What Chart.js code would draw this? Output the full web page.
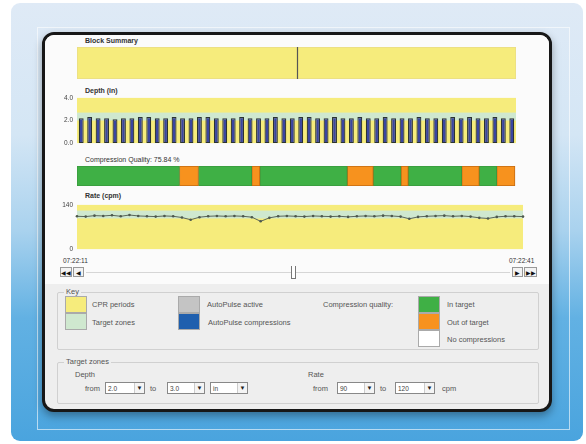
<!DOCTYPE html>
<html><head><meta charset="utf-8">
<script src="https://cdn.jsdelivr.net/npm/chart.js@4"></script>
<style>
html,body{margin:0;padding:0;width:586px;height:444px;overflow:hidden;background:#fff;font-family:"Liberation Sans",Arial,sans-serif;}
#wrap{position:absolute;left:0;top:0;width:586px;height:444px;filter:blur(0.35px);}
.a{position:absolute;}
#card{left:11px;top:3px;width:572px;height:438px;border-radius:9px;background:linear-gradient(to bottom,#dfeaf6 0%,#d4e6f5 30%,#a9d2ee 52%,#62b1e3 72%,#4aa4de 100%);}
#frame{left:37px;top:27px;width:531px;height:401px;border:1px solid rgba(255,255,255,0.6);}
#win{left:42px;top:32px;width:504px;height:374px;border:3px solid #171717;border-radius:12px;background:#eeeeee;box-shadow:0 4px 8px rgba(0,0,0,0.35);overflow:hidden}
#white{left:45px;top:35px;width:504px;height:249px;background:#fbfbfb;border-radius:9px 9px 0 0;}
.t{font-size:7px;color:#333;white-space:nowrap;line-height:8px;}
.b{font-weight:bold;}
.k{font-size:7.5px;color:#555;white-space:nowrap;line-height:9px;}
.sw{width:20px;height:15px;border:1px solid #aaa;}
.fs{border:1px solid #d0d0d0;border-radius:2px;}
.lg{background:#eeeeee;padding:0 2px;font-size:7.5px;color:#555;line-height:9px;}
.dd{height:12px;border:1px solid #888;background:#fff;font-size:6.5px;color:#444;line-height:12px;box-sizing:border-box;padding-left:2px;}
.dd span{position:absolute;right:0;top:0;width:9px;height:10px;border-left:1px solid #ccc;background:#f4f4f4;font-size:6px;line-height:10px;text-align:center;color:#222}
.btn{height:10px;border:1px solid #999;background:#f3f3f3;font-size:6px;line-height:10px;text-align:center;color:#111;box-sizing:border-box;}
canvas{position:absolute;}
</style></head>
<body>
<div id="wrap">
<div id="card" class="a"></div>
<div id="frame" class="a"></div>
<div id="win" class="a"></div>
<div id="white" class="a"></div>

<div class="a t b" style="left:85px;top:37px">Block Summary</div>
<canvas id="cBlock" style="left:77px;top:47px" width="439" height="32"></canvas>

<div class="a t b" style="left:85px;top:87px">Depth (in)</div>
<canvas id="cDepth" style="left:50px;top:90px" width="470" height="61"></canvas>

<div class="a t" style="left:85px;top:156px">Compression Quality: 75.84 %</div>
<canvas id="cQual" style="left:77px;top:166px" width="439" height="20"></canvas>

<div class="a t b" style="left:85px;top:192px">Rate (cpm)</div>
<canvas id="cRate" style="left:50px;top:197px" width="477" height="60"></canvas>

<div class="a t" style="left:63px;top:257px;font-size:6.5px">07:22:11</div>
<div class="a t" style="left:509px;top:257px;font-size:6.5px">07:22:41</div>
<div class="a btn" style="left:60px;top:267px;width:12px">&#9664;&#9664;</div>
<div class="a btn" style="left:73px;top:267px;width:11px">&#9664;</div>
<div class="a btn" style="left:512px;top:267px;width:11px">&#9654;</div>
<div class="a btn" style="left:524px;top:267px;width:13px">&#9654;&#9654;</div>
<div class="a" style="left:86px;top:272px;width:424px;height:1px;background:#d6d6d6"></div>
<div class="a" style="left:291px;top:266px;width:3px;height:12px;border:1px solid #777;border-top:none;background:#fff"></div>

<div class="a fs" style="left:57px;top:292px;width:480px;height:56px"></div>
<div class="a lg" style="left:64px;top:287px">Key</div>
<div class="a sw" style="left:65px;top:296px;background:#f6ec7c"></div>
<div class="a k" style="left:92px;top:300px">CPR periods</div>
<div class="a sw" style="left:65px;top:313px;background:#cfe8cf"></div>
<div class="a k" style="left:92px;top:318px">Target zones</div>
<div class="a sw" style="left:178px;top:296px;background:#c4c4c4"></div>
<div class="a k" style="left:207px;top:300px">AutoPulse active</div>
<div class="a sw" style="left:178px;top:313px;background:#1f5fae"></div>
<div class="a k" style="left:208px;top:318px">AutoPulse compressions</div>
<div class="a k" style="left:323px;top:300px">Compression quality:</div>
<div class="a sw" style="left:418px;top:296px;background:#3fb045"></div>
<div class="a k" style="left:447px;top:300px">In target</div>
<div class="a sw" style="left:418px;top:313px;background:#f7921e"></div>
<div class="a k" style="left:447px;top:318px">Out of target</div>
<div class="a sw" style="left:418px;top:330px;background:#ffffff"></div>
<div class="a k" style="left:447px;top:335px">No compressions</div>

<div class="a fs" style="left:57px;top:362px;width:480px;height:40px"></div>
<div class="a lg" style="left:64px;top:357px">Target zones</div>
<div class="a k" style="left:75px;top:370px">Depth</div>
<div class="a k" style="left:85px;top:384px">from</div>
<div class="a dd" style="left:105px;top:382px;width:40px">2.0<span>&#9660;</span></div>
<div class="a k" style="left:150px;top:384px">to</div>
<div class="a dd" style="left:167px;top:382px;width:38px">3.0<span>&#9660;</span></div>
<div class="a dd" style="left:210px;top:382px;width:38px">in<span>&#9660;</span></div>
<div class="a k" style="left:308px;top:370px">Rate</div>
<div class="a k" style="left:313px;top:384px">from</div>
<div class="a dd" style="left:337px;top:382px;width:38px">90<span>&#9660;</span></div>
<div class="a k" style="left:380px;top:384px">to</div>
<div class="a dd" style="left:395px;top:382px;width:40px">120<span>&#9660;</span></div>
<div class="a k" style="left:442px;top:384px">cpm</div>
</div>

<script>
// ---------- data ----------
const sessionStart = 0, sessionEnd = 30;          // seconds, 07:22:11 -> 07:22:41
const blockEventTime = 15;                         // marker in block summary
const compressionLabels = [1,2,3,4,5,6,7,8,9,10,11,12,13,14,15,16,17,18,19,20,21,22,23,24,25,26,27,28,29,30,31,32,33,34,35,36,37,38,39,40,41,42,43,44,45,46,47,48,49,50,51,52];
const depthValues = [2.2,2.3,2.2,2.2,2.1,2.2,2.2,2.3,2.3,2.2,2.2,2.3,2.2,2.2,2.3,2.3,2.2,2.2,2.2,2.3,2.2,2.2,2.2,2.3,2.2,2.2,2.3,2.3,2.2,2.2,2.3,2.2,2.2,2.3,2.2,2.2,2.3,2.2,2.2,2.2,2.3,2.2,2.2,2.2,2.3,2.2,2.3,2.2,2.2,2.3,2.2,2.2];
const rateValues = [104,103,106,105,107,104,108,105,104,103,105,104,100,93,101,104,105,104,105,104,101,88,99,104,105,104,103,105,104,103,104,102,104,105,104,106,105,103,96,102,104,105,106,104,105,103,99,97,102,104,104,103];
const depthTarget = [2.0, 2.7];
const rateTarget = [97, 122];
const depthAxis = [0, 4];
const rateAxis = [0, 140];
const qualityStarts = [0, 7.0, 8.3, 11.94, 12.5, 18.47, 20.25, 22.14, 22.64, 26.29, 27.49, 28.68];
const qualityEnds   = [7.0, 8.3, 11.94, 12.5, 18.47, 20.25, 22.14, 22.64, 26.29, 27.49, 28.68, 29.93];
const qualityStatus = ['in','out','in','out','in','out','in','out','in','out','in','out'];

// ---------- styles ----------
const YELLOW = '#f6ec7c', TARGET = '#cfe8cf';
const Q_FILL = {in:'#3fb045', out:'#f7921e'};
const Q_EDGE = {in:'#3a9a3e', out:'#c46a12'};

const bands = {
  id:'bands',
  beforeDatasetsDraw(chart, args, opts){
    if(!opts.list) return;
    const {ctx, chartArea:a} = chart; const y = chart.scales.y;
    ctx.save();
    opts.list.forEach(b=>{
      const y1 = y.getPixelForValue(b.from), y2 = y.getPixelForValue(b.to);
      ctx.fillStyle = b.color;
      ctx.fillRect(a.left, Math.min(y1,y2), a.right-a.left, Math.abs(y2-y1));
    });
    ctx.restore();
  }
};
const marker = {
  id:'marker',
  afterDatasetsDraw(chart, args, opts){
    if(opts.at===undefined) return;
    const {ctx, chartArea:a} = chart; const x = chart.scales.x.getPixelForValue(opts.at);
    ctx.save(); ctx.strokeStyle='#555'; ctx.lineWidth=1.2;
    ctx.beginPath(); ctx.moveTo(Math.round(x)+0.5,a.top); ctx.lineTo(Math.round(x)+0.5,a.bottom); ctx.stroke(); ctx.restore();
  }
};
Chart.defaults.font.family = '"Liberation Sans", Arial, sans-serif';
const base = {responsive:false, animation:false, plugins:{legend:{display:false}, tooltip:{enabled:false}}};

// Block summary
new Chart(document.getElementById('cBlock'), {
  type:'bar',
  data:{labels:['CPR'], datasets:[{data:[[sessionStart,sessionEnd]], backgroundColor:YELLOW, borderColor:'#e9dc86', borderWidth:1, borderSkipped:false, barPercentage:1, categoryPercentage:1}]},
  options:{...base, indexAxis:'y', layout:{padding:0},
    plugins:{...base.plugins, marker:{at:blockEventTime}},
    scales:{x:{type:'linear', min:sessionStart, max:sessionEnd, display:false}, y:{display:false}}},
  plugins:[marker]
});

// Depth
new Chart(document.getElementById('cDepth'), {
  type:'bar',
  data:{labels:compressionLabels, datasets:[{data:depthValues, backgroundColor:'#3a45a0', borderColor:'#2b3333', borderWidth:1.2, borderSkipped:false, barPercentage:0.58, categoryPercentage:1}]},
  options:{...base, layout:{padding:{top:7,bottom:6,right:4,left:0}},
    plugins:{...base.plugins, bands:{list:[{from:depthAxis[0],to:depthAxis[1],color:YELLOW},{from:depthTarget[0],to:depthTarget[1],color:TARGET}]}},
    scales:{
      x:{display:false},
      y:{min:depthAxis[0], max:depthAxis[1], afterFit(s){s.width=27;},
         ticks:{stepSize:2, font:{size:6.5}, color:'#444', padding:4, callback:v=>v.toFixed(1)},
         grid:{display:false, drawTicks:false, tickLength:0}, border:{display:false}}
    }},
  plugins:[bands]
});

// Compression quality
new Chart(document.getElementById('cQual'), {
  type:'bar',
  data:{labels:['Q'], datasets: qualityStarts.map((s,i)=>({data:[[s, qualityEnds[i]]], backgroundColor:Q_FILL[qualityStatus[i]], borderColor:Q_EDGE[qualityStatus[i]], borderWidth:1, borderSkipped:false, grouped:false, barPercentage:1, categoryPercentage:1}))},
  options:{...base, indexAxis:'y', layout:{padding:0},
    scales:{x:{type:'linear', min:sessionStart, max:sessionEnd, display:false}, y:{display:false}}}
});

// Rate
new Chart(document.getElementById('cRate'), {
  type:'line',
  data:{labels:compressionLabels, datasets:[{data:rateValues, borderColor:'#59655a', borderWidth:1, pointRadius:1.3, pointBackgroundColor:'#4d584d', pointBorderWidth:0, tension:0}]},
  options:{...base, layout:{padding:{top:7,bottom:5,right:4,left:0}},
    plugins:{...base.plugins, bands:{list:[{from:rateAxis[0],to:rateAxis[1],color:YELLOW},{from:rateTarget[0],to:rateTarget[1],color:TARGET}]}},
    scales:{
      x:{display:false, offset:false},
      y:{min:rateAxis[0], max:rateAxis[1], afterFit(s){s.width=27;},
         afterBuildTicks(s){s.ticks=[{value:rateAxis[0]},{value:rateAxis[1]}];},
         ticks:{font:{size:6.5}, color:'#444', padding:4},
         grid:{display:false, drawTicks:false, tickLength:0}, border:{display:false}}
    }},
  plugins:[bands]
});
</script>
</body></html>
